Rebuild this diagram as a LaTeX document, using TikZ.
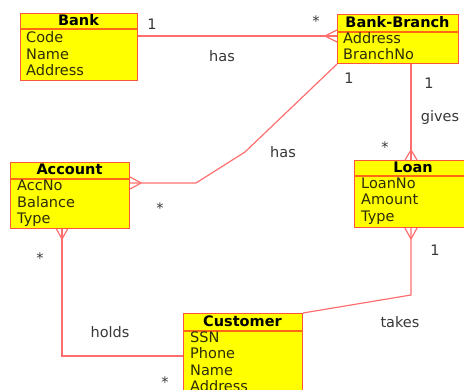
\documentclass[tikz,border=0pt]{standalone}
\usepackage{fontspec}
\setmainfont{DejaVu Sans}
\definecolor{boxfill}{RGB}{255,255,0}
\definecolor{boxline}{RGB}{255,85,60}
\definecolor{sepline}{RGB}{255,105,20}
\definecolor{connc}{RGB}{255,110,110}
\definecolor{txt}{RGB}{45,45,10}
\definecolor{lbl}{RGB}{55,55,55}
\tikzset{
  umlbox/.style={draw=boxline, fill=boxfill, line width=1.1pt, anchor=north west, inner sep=0pt},
  sep/.style={draw=sepline, line width=1.1pt},
  hdr/.style={anchor=base, inner sep=0pt, text=black, font=\fontsize{14.5}{16.5}\selectfont\bfseries},
  attr/.style={anchor=base west, inner sep=0pt, text=txt, font=\fontsize{14.5}{16.5}\selectfont},
  lab/.style={anchor=center, inner sep=0pt, text=lbl, font=\fontsize{14.5}{16.5}\selectfont},
  conn/.style={draw=connc, line width=1.2pt},
}
\begin{document}
\begin{tikzpicture}[x=1pt,y=-1pt]
\useasboundingbox (0,0) rectangle (464,390);
\clip (0,0) rectangle (464,390);
% Bank
\node[umlbox, minimum width=117pt, minimum height=67pt] (bank) at (20,13) {};
\draw[sep] ([yshift=-16pt]bank.north west) -- ([yshift=-16pt]bank.north east);
\node[hdr] (bankh) at (78.5,26) {Bank};
\node[attr] (bank1) at (26,43) {Code};
\node[attr] (bank2) at (26,59.5) {Name};
\node[attr] (bank3) at (26,76) {Address};
% Bank-Branch
\node[umlbox, minimum width=121pt, minimum height=49pt] (bb) at (337,14) {};
\draw[sep] ([yshift=-18pt]bb.north west) -- ([yshift=-18pt]bb.north east);
\node[hdr] (bbh) at (397.5,27.5) {Bank-Branch};
\node[attr] (bb1) at (343,43.5) {Address};
\node[attr] (bb2) at (343,59.5) {BranchNo};
% Account
\node[umlbox, minimum width=119pt, minimum height=66pt] (acc) at (10,162) {};
\draw[sep] ([yshift=-17pt]acc.north west) -- ([yshift=-17pt]acc.north east);
\node[hdr] (acch) at (69.5,175) {Account};
\node[attr] (acc1) at (17,191) {AccNo};
\node[attr] (acc2) at (17,207.5) {Balance};
\node[attr] (acc3) at (17,223.5) {Type};
% Loan
\node[umlbox, minimum width=118pt, minimum height=67pt] (loan) at (354,160) {};
\draw[sep] ([yshift=-16pt]loan.north west) -- ([yshift=-16pt]loan.north east);
\node[hdr] (loanh) at (413,173) {Loan};
\node[attr] (loan1) at (361,188.5) {LoanNo};
\node[attr] (loan2) at (361,205) {Amount};
\node[attr] (loan3) at (361,221.5) {Type};
% Customer
\node[umlbox, minimum width=119pt, minimum height=90pt] (cust) at (183,313) {};
\draw[sep] ([yshift=-18pt]cust.north west) -- ([yshift=-18pt]cust.north east);
\node[hdr] (custh) at (242.5,326.5) {Customer};
\node[attr] (cust1) at (190,342.5) {SSN};
\node[attr] (cust2) at (190,359) {Phone};
\node[attr] (cust3) at (190,375.5) {Name};
\node[attr] (cust4) at (190,392) {Address};
% Bank -- Bank-Branch
\draw[conn] ([yshift=-23pt]bank.north east) -- ([yshift=-22pt]bb.north west);
\draw[conn] ([shift={(-12pt,-22pt)}]bb.north west) -- ([yshift=-16pt]bb.north west);
\draw[conn] ([shift={(-12pt,-22pt)}]bb.north west) -- ([yshift=-28pt]bb.north west);
% Bank-Branch -- Account
\draw[conn] (bb.south west) -- (245,152) -- (196,183) -- ([yshift=-21pt]acc.north east);
\draw[conn] ([shift={(11pt,-21pt)}]acc.north east) -- ([yshift=-15pt]acc.north east);
\draw[conn] ([shift={(11pt,-21pt)}]acc.north east) -- ([yshift=-27pt]acc.north east);
% Bank-Branch -- Loan
\draw[conn] ([xshift=74pt]bb.south west) -- ([xshift=57pt]loan.north west);
\draw[conn] ([shift={(57pt,10pt)}]loan.north west) -- ([xshift=51pt]loan.north west);
\draw[conn] ([shift={(57pt,10pt)}]loan.north west) -- ([xshift=63pt]loan.north west);
% Loan -- Customer
\draw[conn] ([xshift=57pt]loan.south west) -- (411,295) -- (cust.north east);
\draw[conn] ([shift={(57pt,-11pt)}]loan.south west) -- ([xshift=51pt]loan.south west);
\draw[conn] ([shift={(57pt,-11pt)}]loan.south west) -- ([xshift=63pt]loan.south west);
% Account -- Customer
\draw[conn] ([xshift=52pt]acc.south west) -- (62,356) -- ([yshift=-43pt]cust.north west);
\draw[conn] ([shift={(52pt,-10pt)}]acc.south west) -- ([xshift=46.5pt]acc.south west);
\draw[conn] ([shift={(52pt,-10pt)}]acc.south west) -- ([xshift=57.5pt]acc.south west);
% labels
\node[lab] (l1) at (152,24) {1};
\node[lab] (l2) at (316,21) {*};
\node[lab] (l3) at (222,56) {has};
\node[lab] (l4) at (349,78) {1};
\node[lab] (l5) at (429,83) {1};
\node[lab] (l6) at (440,118) {gives};
\node[lab] (l7) at (385,147) {*};
\node[lab] (l8) at (283,152) {has};
\node[lab] (l9) at (160,208) {*};
\node[lab] (l10) at (435,250) {1};
\node[lab] (l11) at (400,322) {takes};
\node[lab] (l12) at (40,258) {*};
\node[lab] (l13) at (110,332) {holds};
\node[lab] (l14) at (165,382) {*};
\end{tikzpicture}
\end{document}
